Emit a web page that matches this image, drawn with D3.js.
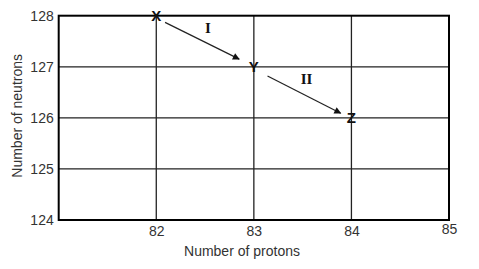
<!DOCTYPE html>
<html>
  <head>
    <meta charset="utf-8"/>
    <title>Neutrons vs protons</title>
    <style type="text/css">
body {
  margin: 0;
  background: #fff;
  font-family: "Liberation Sans", Arial, sans-serif;
}
.tick text {
  font-size: 14px;
  fill: #333;
}
.grid line {
  stroke: #222;
  stroke-width: 1.3;
}
    </style>
  </head>
  <body>
    <div id="chart"></div>
    <script src="https://cdn.jsdelivr.net/npm/d3@7"></script>
    <script>
    // data
    const protonTicks = [82, 83, 84, 85];
    const neutronTicks = [124, 125, 126, 127, 128];
    const points = [
      {name: "X", p: 82, n: 128},
      {name: "Y", p: 83, n: 127},
      {name: "Z", p: 84, n: 126}
    ];
    // decay steps drawn as arrows (start / end in data units)
    const steps = [
      {label: "I",  p0: 82.09, n0: 127.87, p1: 82.85, n1: 127.15, lp: 82.53, ln: 127.66},
      {label: "II", p0: 83.14, n0: 126.82, p1: 83.89, n1: 126.09, lp: 83.54, ln: 126.66}
    ];

    const W = 479, H = 269;
    const margin = {top: 15.7, right: 30, bottom: 49, left: 58.7};

    const x = d3.scaleLinear().domain([81, 85]).range([margin.left, W - margin.right]);
    const y = d3.scaleLinear().domain([124, 128]).range([H - margin.bottom, margin.top]);

    const svg = d3.select("#chart").append("svg")
        .attr("width", W)
        .attr("height", H);

    svg.append("defs").append("marker")
        .attr("id", "arr")
        .attr("viewBox", "0 0 10 10")
        .attr("refX", 9).attr("refY", 5)
        .attr("markerWidth", 9).attr("markerHeight", 7)
        .attr("markerUnits", "userSpaceOnUse")
        .attr("orient", "auto")
      .append("path")
        .attr("d", "M0,0L10,5L0,10Z")
        .attr("fill", "#111");

    // grid
    const grid = svg.append("g").attr("class", "grid");
    grid.selectAll(".vx")
        .data(protonTicks.slice(0, -1))
        .enter().append("line")
        .attr("x1", d => x(d)).attr("x2", d => x(d))
        .attr("y1", y(124)).attr("y2", y(128));
    grid.selectAll(".hy")
        .data(neutronTicks.slice(1, -1))
        .enter().append("line")
        .attr("x1", x(81)).attr("x2", x(85))
        .attr("y1", d => y(d)).attr("y2", d => y(d));

    // frame
    svg.append("rect")
        .attr("x", x(81)).attr("y", y(128))
        .attr("width", x(85) - x(81))
        .attr("height", y(124) - y(128))
        .attr("fill", "none")
        .attr("stroke", "#000")
        .attr("stroke-width", 2);

    // axes
    const xAxis = svg.append("g")
        .attr("transform", `translate(0,${y(124)})`)
        .call(d3.axisBottom(x).tickValues(protonTicks).tickFormat(d3.format("d"))
          .tickSize(0).tickPadding(6));
    xAxis.select(".domain").remove();
    xAxis.selectAll(".tick").filter(d => d === 85).select("text").attr("dy", "0.55em");

    const yAxis = svg.append("g")
        .attr("transform", `translate(${x(81)},0)`)
        .call(d3.axisLeft(y).tickValues(neutronTicks).tickFormat(d3.format("d"))
          .tickSize(0).tickPadding(5));
    yAxis.select(".domain").remove();

    svg.append("text")
        .attr("x", 242).attr("y", 256)
        .attr("text-anchor", "middle")
        .attr("font-size", 14)
        .attr("fill", "#333")
        .text("Number of protons");

    svg.append("text")
        .attr("transform", `translate(22,${(y(124) + y(128)) / 2 - 2}) rotate(-90)`)
        .attr("text-anchor", "middle")
        .attr("font-size", 14)
        .attr("fill", "#333")
        .text("Number of neutrons");

    // arrows
    svg.selectAll(".step")
        .data(steps)
        .enter().append("line")
        .attr("x1", d => x(d.p0)).attr("y1", d => y(d.n0))
        .attr("x2", d => x(d.p1)).attr("y2", d => y(d.n1))
        .attr("stroke", "#222")
        .attr("stroke-width", 1.2)
        .attr("marker-end", "url(#arr)");

    svg.selectAll(".steplabel")
        .data(steps)
        .enter().append("text")
        .attr("x", d => x(d.lp)).attr("y", d => y(d.ln))
        .attr("text-anchor", "middle")
        .attr("font-family", "'Liberation Serif', 'Times New Roman', serif")
        .attr("font-weight", "bold")
        .attr("font-size", 15)
        .attr("fill", "#111")
        .text(d => d.label);

    // point letters
    svg.selectAll(".pt")
        .data(points)
        .enter().append("text")
        .attr("x", d => x(d.p))
        .attr("y", d => y(d.n) + 5)
        .attr("text-anchor", "middle")
        .attr("font-weight", "bold")
        .attr("font-size", 15)
        .attr("fill", "#111")
        .text(d => d.name);
    </script>
  </body>
</html>
